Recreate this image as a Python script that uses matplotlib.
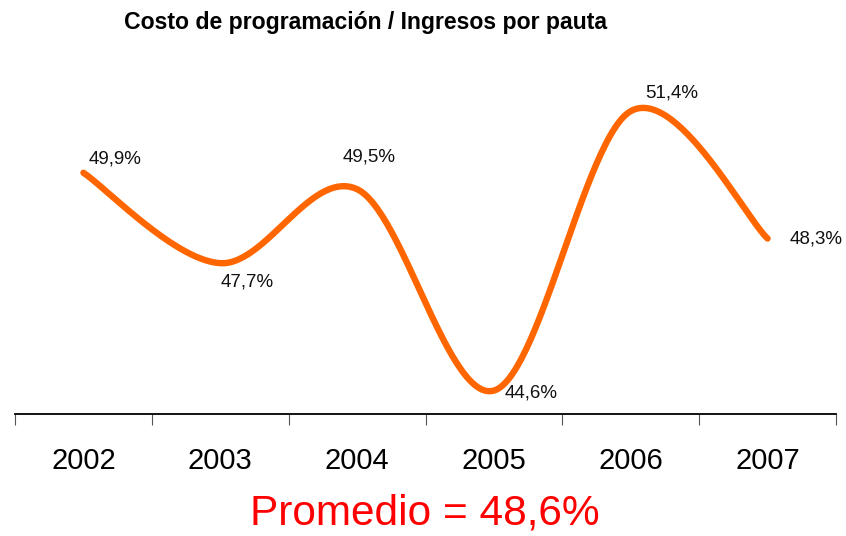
import numpy as np
import matplotlib
matplotlib.use("Agg")
import matplotlib.pyplot as plt

years = ["2002", "2003", "2004", "2005", "2006", "2007"]
ratio = [49.9, 47.7, 49.5, 44.6, 51.4, 48.3]
labels = ["49,9%", "47,7%", "49,5%", "44,6%", "51,4%", "48,3%"]
title = "Costo de programación / Ingresos por pauta"
average_text = "Promedio = 48,6%"

plt.rcParams['font.family'] = ['Liberation Sans', 'DejaVu Sans']

fig = plt.figure(figsize=(8.46, 5.36), dpi=100)
ax = fig.add_axes([15 / 846, 122 / 536, 821 / 846, 330 / 536])

x = np.arange(len(years), dtype=float)
y = np.array(ratio)

# smoothed line like Excel: catmull-rom beziers in screen-ish units
sx, sy = 136.8, 41.1
P = np.column_stack([x * sx, y * sy])
Pext = np.vstack([P[0], P, P[-1]])
curve = []
t = np.linspace(0, 1, 60)
for i in range(len(P) - 1):
    p0, p1, p2, p3 = Pext[i], Pext[i + 1], Pext[i + 2], Pext[i + 3]
    c1 = p1 + (p2 - p0) / 6
    c2 = p2 - (p3 - p1) / 6
    seg = ((1 - t) ** 3)[:, None] * p1 + (3 * (1 - t) ** 2 * t)[:, None] * c1 \
        + (3 * (1 - t) * t ** 2)[:, None] * c2 + (t ** 3)[:, None] * p2
    curve.append(seg)
curve = np.vstack(curve)
ax.plot(curve[:, 0] / sx, curve[:, 1] / sy, color="#FF6600", lw=4.6,
        solid_capstyle="round", solid_joinstyle="round")

offsets = [(32, 14), (27, -19), (12, 32), (37, -2), (41, 18), (49, 0)]
for xi, yi, lab, off in zip(x, y, labels, offsets):
    ax.annotate(lab, (xi, yi), xytext=off, textcoords="offset pixels",
                ha="center", va="center", fontsize=13.5, color="#111111")

ax.set_xlim(-0.5, 5.5)
ax.set_ylim(44.03, 52.06)
for s in ["top", "right", "left"]:
    ax.spines[s].set_visible(False)
ax.spines["bottom"].set_linewidth(1.3)
ax.set_yticks([])
ax.set_xticks(np.arange(-0.5, 6, 1))
ax.set_xticklabels([])
ax.tick_params(axis="x", direction="out", length=8, width=0.8, color="#555555")
for xi, yr in zip(x, years):
    ax.text(xi, -0.143, yr, transform=ax.get_xaxis_transform(),
            ha="center", va="center", fontsize=21)

fig.text(366 / 846, 1 - 22 / 536, title, ha="center", va="center",
         fontsize=16.6, fontweight="bold")
fig.text(425 / 846, 1 - 514 / 536, average_text, ha="center", va="center",
         fontsize=30.5, color="#FF0000")

fig.savefig("out.png", dpi=100)
